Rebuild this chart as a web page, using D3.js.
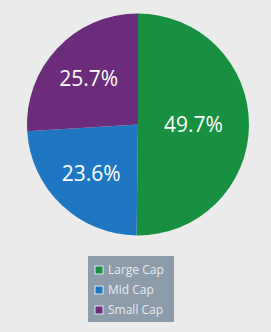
<!DOCTYPE html>
<html lang="en">
<head>
<meta charset="UTF-8">
<title>market cap pie</title>
<script src="https://cdn.jsdelivr.net/npm/d3@7"></script>
<style>
    html, body { margin: 0; padding: 0; background: #ebebeb; }
    svg { display: block; }
</style>
</head>
<body>
<svg id="chart" width="271" height="332"></svg>
<script>
    // data
    const categories = ["Large Cap", "Mid Cap", "Small Cap"];
    const shares = [49.7, 23.6, 25.7];
    const colors = ["#17913f", "#1f77c3", "#6b2c7b"];

    const svg = d3.select("#chart");
    const cx = 138, cy = 124.5, r = 111;

    const pie = d3.pie().sort(null).value(d => d);
    const arc = d3.arc().innerRadius(0).outerRadius(r);
    const arcs = pie(shares);

    const g = svg.append("g").attr("transform", `translate(${cx},${cy})`);

    g.selectAll("path")
        .data(arcs)
        .join("path")
        .attr("d", arc)
        .attr("fill", (d, i) => colors[i]);

    // big slice label sits nearer the middle
    const labelArc = d => {
        const lr = (d.endAngle - d.startAngle) > Math.PI * 0.9 ? r * 0.5 : r * 0.61;
        return d3.arc().innerRadius(lr).outerRadius(lr).centroid(d);
    };

    g.selectAll("text")
        .data(arcs)
        .join("text")
        .attr("x", d => labelArc(d)[0])
        .attr("y", d => labelArc(d)[1])
        .attr("dy", "0.36em")
        .attr("text-anchor", "middle")
        .attr("fill", "#ffffff")
        .style("font-family", "'Open Sans', sans-serif")
        .style("font-size", "21px")
        .text(d => d.data.toFixed(1) + "%");

    // legend
    const leg = svg.append("g").attr("transform", "translate(88,256)");
    leg.append("rect")
        .attr("width", 86)
        .attr("height", 66)
        .attr("fill", "#8c9caa");

    const rowY = d3.scaleBand().domain(categories).range([4, 64]);

    const rows = leg.selectAll("g.row")
        .data(categories)
        .join("g")
        .attr("class", "row")
        .attr("transform", d => `translate(0,${rowY(d) + rowY.bandwidth() / 2})`);

    rows.append("rect")
        .attr("x", 7)
        .attr("y", -4)
        .attr("width", 8)
        .attr("height", 8)
        .attr("fill", (d, i) => colors[i])
        .attr("stroke", "#dfe6ec")
        .attr("stroke-width", 1);

    rows.append("text")
        .attr("x", 20)
        .attr("dy", "0.36em")
        .attr("fill", "#e6ecf1")
        .style("font-family", "'Open Sans', sans-serif")
        .style("font-size", "12px")
        .text(d => d);
</script>
</body>
</html>
